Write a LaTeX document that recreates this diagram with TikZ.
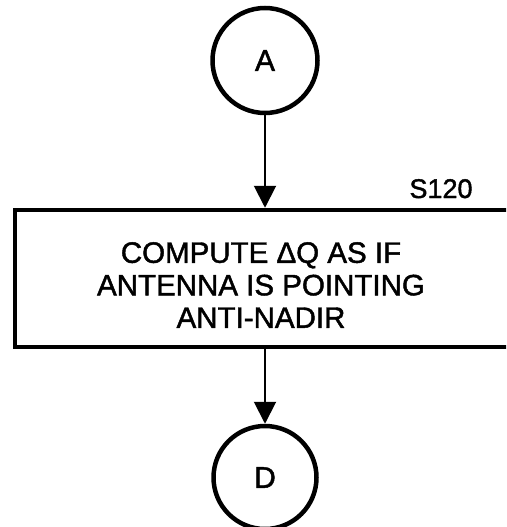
\documentclass[tikz,border=0pt]{standalone}
\usepackage{fontspec}
\setmainfont[FakeBold=1.5,AutoFakeBold=1.5]{Liberation Sans}
\usetikzlibrary{arrows.meta}
\begin{document}
\begin{tikzpicture}[x=1pt,y=-1pt,
  conn/.style={circle, draw, line width=4.5pt, inner sep=0pt, font=\fontsize{30}{30}\selectfont\bfseries},
  stepbox/.style={rectangle, draw, line width=4.5pt, inner sep=0pt, minimum width=500pt, minimum height=137pt},
  flow/.style={line width=2pt, -{Triangle[width=22pt,length=22pt]}},
  boxtext/.style={align=center, inner sep=0pt, font=\fontsize{29.5}{32.5}\selectfont\bfseries},
  steplabel/.style={anchor=base, inner sep=0pt, font=\fontsize{27}{27}\selectfont\bfseries}]
\useasboundingbox (0,0) rectangle (506,527);
\clip (0,0) rectangle (506,527);
\node[conn, minimum size=105pt] (A) at (265,60.5) {A};
\node[stepbox] (box) at (265,278.5) {};
\node[boxtext] (txt) at (261,285) {COMPUTE ΔQ AS IF\\ANTENNA IS POINTING\\ANTI-NADIR};
\node[steplabel] (lbl) at (441,198) {S120};
\node[conn, minimum size=103pt] (D) at (265,477.5) {D};
\draw[flow] (A) -- (box.north);
\draw[flow] (box.south) -- (D);
\end{tikzpicture}
\end{document}
